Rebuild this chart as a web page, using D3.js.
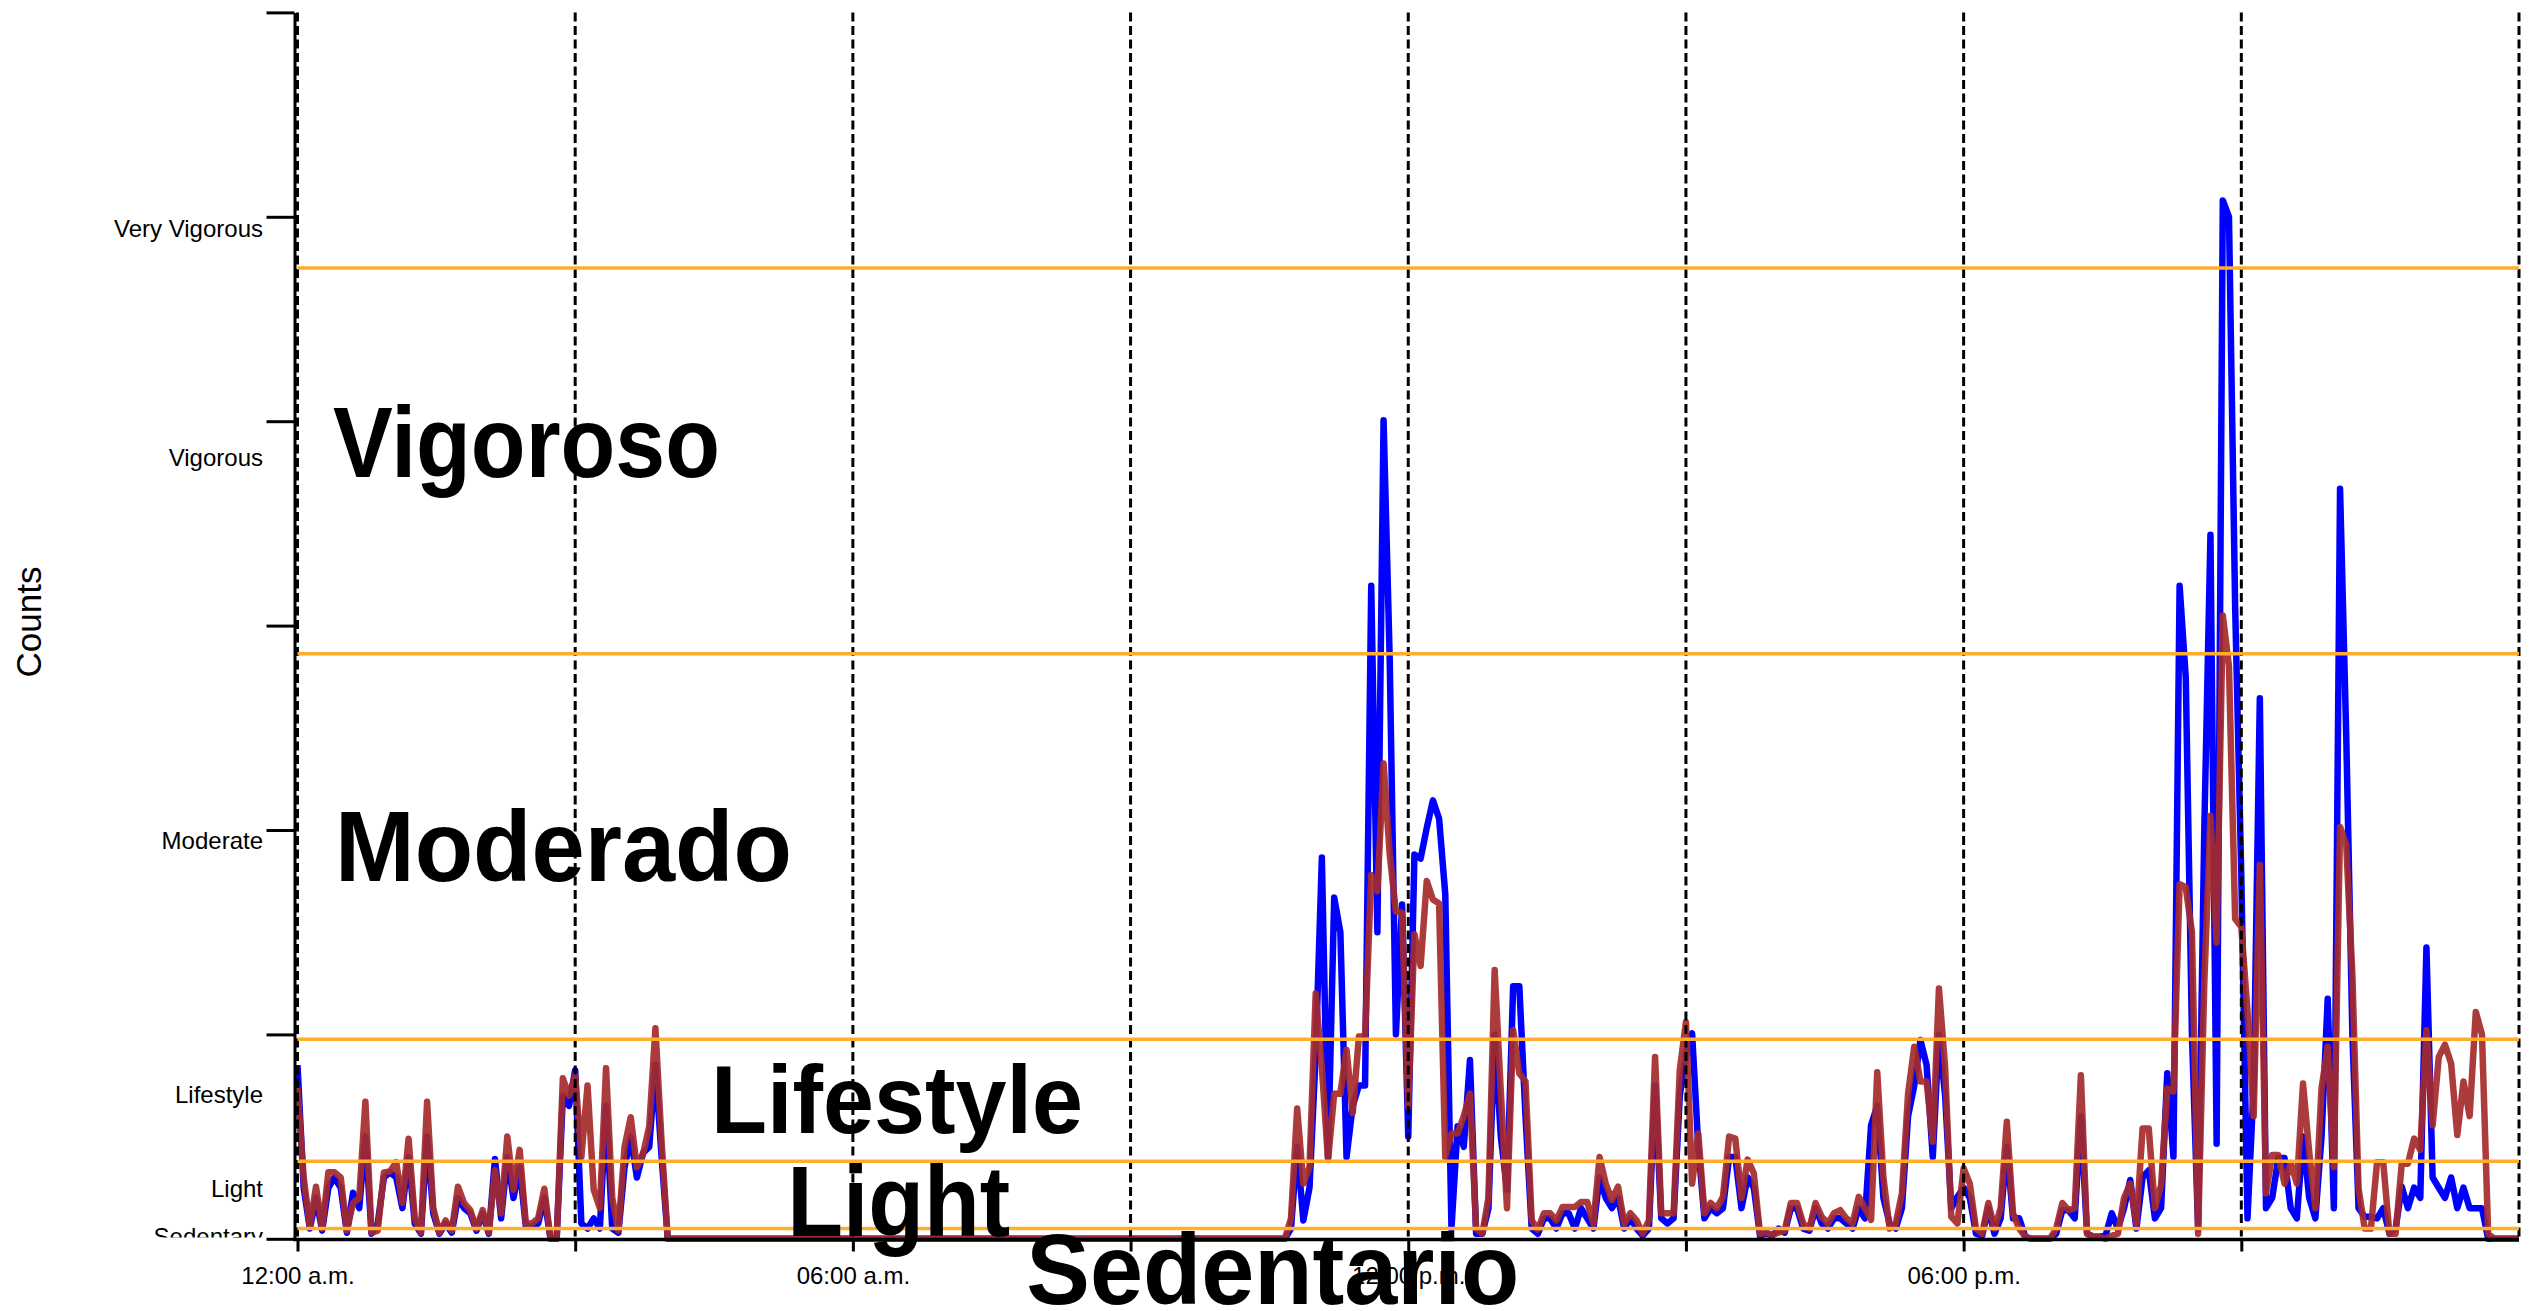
<!DOCTYPE html>
<html>
<head>
<meta charset="utf-8">
<script src="https://cdn.jsdelivr.net/npm/d3@7"></script>
<style>
body { margin: 0; background: #fff; }
text { font-family: "Liberation Sans", Arial, sans-serif; }
</style>
</head>
<body>
<svg width="2534" height="1311"></svg>
<script>
// activity counts, one value every 4 minutes from 12:00 a.m. to 12:00 a.m.
var minutesPerPoint = 4;

var blueCounts = [
  1700,500,100,400,80,500,600,500,60,450,
  300,1000,50,150,600,650,600,300,800,150,
  50,1000,250,50,150,60,400,300,250,80,
  250,50,780,200,800,400,700,120,120,150,
  400,0,0,1400,1300,1650,150,100,200,100,
  1300,100,60,700,1000,600,840,900,1700,800,
  0,0,0,0,0,0,0,0,0,0,
  0,0,0,0,0,0,0,0,0,0,
  0,0,0,0,0,0,0,0,0,0,
  0,0,0,0,0,0,0,0,0,0,
  0,0,0,0,0,0,0,0,0,0,
  0,0,0,0,0,0,0,0,0,0,
  0,0,0,0,0,0,0,0,0,0,
  0,0,0,0,0,0,0,0,0,0,
  0,0,0,0,0,0,0,0,0,0,
  0,0,0,0,0,0,0,0,0,0,
  0,100,900,180,500,1800,3730,800,3340,3000,
  800,1300,1500,1500,6390,3000,8010,5660,2000,3270,
  1000,3760,3720,4020,4290,4110,3370,100,1100,900,
  1750,50,50,300,2000,1000,480,2470,2470,1200,
  100,50,200,200,100,250,250,100,300,200,
  100,600,400,300,400,100,200,100,30,100,
  1500,200,150,200,1400,1800,2010,900,200,300,
  250,300,800,800,300,600,500,30,50,30,
  100,60,300,300,100,80,300,150,100,200,
  200,150,100,300,200,1110,1300,400,150,100,
  300,1200,1500,1945,1700,800,2000,1400,300,410,
  500,400,50,30,300,50,200,900,200,200,
  20,0,0,0,0,50,280,280,200,1200,
  50,20,20,30,250,100,300,575,100,600,
  670,200,300,1620,800,6390,5490,2000,100,4000,
  6890,930,10160,10000,6190,3550,200,1500,5290,300,
  400,790,790,300,200,1000,400,200,1000,2350,
  300,7340,4930,2000,300,215,215,200,300,50,
  100,510,300,500,400,2850,600,500,400,600,
  300,500,300,300,300,0,0,0,0,0,
  0
];

var redCounts = [
  1480,600,120,510,100,650,650,600,80,350,
  400,1340,60,80,650,660,750,350,980,200,
  60,1340,300,60,180,80,510,350,280,100,
  280,60,670,250,1000,480,870,150,150,200,
  490,0,0,1570,1400,1600,800,1500,480,300,
  1670,400,80,900,1190,700,830,1100,2060,950,
  0,0,0,0,0,0,0,0,0,0,
  0,0,0,0,0,0,0,0,0,0,
  0,0,0,0,0,0,0,0,0,0,
  0,0,0,0,0,0,0,0,0,0,
  0,0,0,0,0,0,0,0,0,0,
  0,0,0,0,0,0,0,0,0,0,
  0,0,0,0,0,0,0,0,0,0,
  0,0,0,0,0,0,0,0,0,0,
  0,0,0,0,0,0,0,0,0,0,
  0,0,0,0,0,0,0,0,0,0,
  0,200,1275,540,700,2400,1680,770,1420,1420,
  1850,1230,1980,1980,3560,3400,4650,3760,3200,3190,
  1290,2980,2670,3500,3320,3280,800,1030,1030,1200,
  1420,100,50,400,2630,1440,300,2040,1620,1540,
  180,90,250,250,180,310,310,310,360,360,
  150,800,540,380,510,150,250,180,50,180,
  1780,250,250,250,1650,2120,540,1030,250,350,
  300,410,1000,980,400,775,640,50,60,40,
  60,80,350,350,150,100,350,215,150,250,
  280,200,150,410,300,185,1630,600,100,150,
  445,1420,1880,1540,1540,950,2450,1680,215,150,
  690,540,100,50,350,100,300,1145,250,100,
  20,0,0,0,0,100,350,280,300,1600,
  50,20,20,0,30,50,400,540,150,1080,
  1080,300,525,1470,1440,3470,3440,3000,50,2500,
  4140,2900,6100,5600,3130,3050,2230,1200,3660,445,
  820,820,540,740,540,1520,850,300,1470,1880,
  700,4030,3860,2580,490,100,100,750,750,50,
  50,735,735,980,870,2040,1110,1780,1900,1715,
  1015,1540,1200,2220,2000,50,0,0,0,0,
  0
];

// intensity cut points (counts) and zone labels
var cutPoints = [100, 760, 1952, 5725, 9499];
var zoneNames = ["Sedentary", "Light", "Lifestyle", "Moderate", "Vigorous", "Very Vigorous"];
var zoneLabelCounts = [27, 496, 1416, 3902, 7645, 9890];

var yTicks = [0, 2000, 4000, 6000, 8000, 10000, 12000];
var gridMinutes = [0, 180, 360, 540, 720, 900, 1080, 1260, 1440];
var tickMinutes = [0, 180, 360, 540, 720, 900, 1080, 1260];
var timeLabels = { 0: "12:00 a.m.", 360: "06:00 a.m.", 720: "12:00 p.m.", 1080: "06:00 p.m." };

var svg = d3.select("svg");

var x = d3.scaleLinear().domain([0, 1440]).range([297.5, 2519]);
var y = d3.scaleLinear().domain([0, 12000]).range([1238.8, 12.4]);

var line = d3.line()
  .x(function (d, i) { return x(i * minutesPerPoint); })
  .y(function (d) { return y(d); });

svg.append("path")
  .datum(blueCounts)
  .attr("fill", "none")
  .attr("stroke", "#0000ff")
  .attr("stroke-width", 6.5)
  .attr("stroke-linejoin", "round")
  .attr("d", line);

svg.append("path")
  .datum(redCounts)
  .attr("fill", "none")
  .attr("stroke", "#a52a2a")
  .attr("stroke-opacity", 0.92)
  .attr("stroke-width", 6.5)
  .attr("stroke-linejoin", "round")
  .attr("d", line);

// dashed time grid
svg.append("g")
  .selectAll("line")
  .data(gridMinutes)
  .enter()
  .append("line")
  .attr("x1", function (d) { return x(d); })
  .attr("x2", function (d) { return x(d); })
  .attr("y1", y(12000))
  .attr("y2", y(0))
  .attr("stroke", "#000")
  .attr("stroke-width", 3)
  .attr("stroke-dasharray", "9,4.5");

// cut point lines
svg.append("g")
  .selectAll("line")
  .data(cutPoints)
  .enter()
  .append("line")
  .attr("x1", x(0))
  .attr("x2", x(1440))
  .attr("y1", function (d) { return y(d); })
  .attr("y2", function (d) { return y(d); })
  .attr("stroke", "#ffad2a")
  .attr("stroke-width", 3.5);

var yAxis = svg.append("g")
  .attr("transform", "translate(294.5,0)")
  .call(d3.axisLeft(y).tickValues(yTicks).tickSize(28).tickSizeOuter(0).tickFormat(""));
yAxis.selectAll("line, path").attr("stroke", "#000").attr("stroke-width", 3);

var xAxis = svg.append("g")
  .attr("transform", "translate(0,1239.5)")
  .call(d3.axisBottom(x)
    .tickValues(tickMinutes)
    .tickSize(12)
    .tickSizeOuter(0)
    .tickPadding(15)
    .tickFormat(function (d) { return timeLabels[d] || ""; }));
xAxis.select(".domain")
  .attr("d", "M" + (x(0) - 4.5) + ",0H" + x(1440))
  .attr("stroke", "#000")
  .attr("stroke-width", 3.5);
xAxis.selectAll(".tick line").attr("stroke", "#000").attr("stroke-width", 3);
xAxis.selectAll("text")
  .attr("font-size", 24)
  .attr("font-family", "Liberation Sans, Arial, sans-serif")
  .attr("fill", "#000");

// zone names on the left, clipped at the baseline
svg.append("clipPath")
  .attr("id", "plotClip")
  .append("rect")
  .attr("x", 0).attr("y", 0)
  .attr("width", 300).attr("height", 1237.5);

svg.append("g")
  .attr("clip-path", "url(#plotClip)")
  .selectAll("text")
  .data(zoneNames)
  .enter()
  .append("text")
  .attr("x", 263)
  .attr("y", function (d, i) { return y(zoneLabelCounts[i]) + 9; })
  .attr("text-anchor", "end")
  .attr("font-size", 24)
  .text(function (d) { return d; });

svg.append("text")
  .attr("transform", "translate(41,622) rotate(-90)")
  .attr("text-anchor", "middle")
  .attr("font-size", 35)
  .text("Counts");

// big overlay labels (minute, counts at baseline, width in px)
var bigLabels = [
  { text: "Vigoroso", m: 23, c: 7454, w: 387, s: 100 },
  { text: "Moderado", m: 24.3, c: 3500, w: 457, s: 100 },
  { text: "Lifestyle", m: 268, c: 1034, w: 372, s: 97 },
  { text: "Light", m: 317.4, c: 27, w: 223, s: 100 },
  { text: "Sedentario", m: 472.4, c: -639, w: 493, s: 100 }
];

svg.append("g")
  .selectAll("text")
  .data(bigLabels)
  .enter()
  .append("text")
  .attr("x", function (d) { return x(d.m); })
  .attr("y", function (d) { return y(d.c); })
  .attr("font-size", function (d) { return d.s; })
  .attr("font-weight", "bold")
  .attr("textLength", function (d) { return d.w; })
  .attr("lengthAdjust", "spacingAndGlyphs")
  .attr("fill", "#000")
  .text(function (d) { return d.text; });
</script>
</body>
</html>
